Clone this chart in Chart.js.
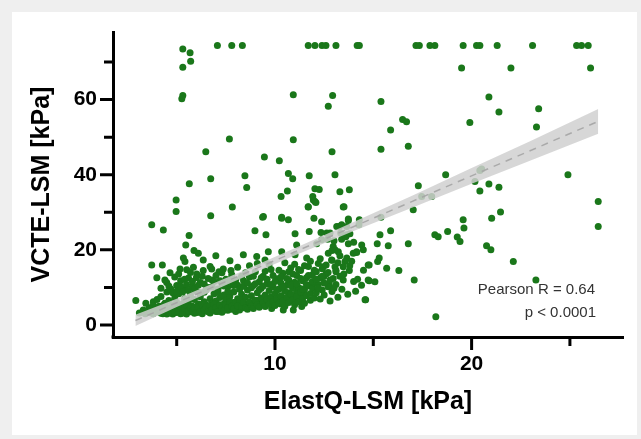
<!DOCTYPE html>
<html>
<head>
<meta charset="utf-8">
<script src="https://cdn.jsdelivr.net/npm/chart.js@4.4.0/dist/chart.umd.min.js"></script>
<style>
  html, body { margin: 0; padding: 0; background: #efefef; }
  .card { position: absolute; left: 12px; top: 12px; width: 625px; height: 423px; background: #fff; }
  #chart { position: absolute; left: 0; top: 0; }
</style>
</head>
<body>
<div class="card"></div>
<canvas id="chart" width="641" height="439"></canvas>
<script>
// ElastQ-LSM (x) vs VCTE-LSM (y), kPa
const topRowPoints = [
  [7.07,74.4],[7.80,74.4],[8.34,74.4],[11.69,74.4],[12.03,74.4],[12.39,74.4],[12.59,74.4],[13.10,74.4],
  [14.18,74.4],[14.29,74.4],[17.17,74.4],[17.34,74.4],[17.88,74.4],[18.13,74.4],[19.57,74.4],[20.25,74.4],
  [20.42,74.4],[21.30,74.4],[23.10,74.4],[25.34,74.4],[25.59,74.4],[25.93,74.4],
  [19.49,68.4],[22.0,68.4],[26.05,68.4]
];

const sparsePoints = [
  [5.31,73.5],[5.68,72.5],[5.71,70.2],[5.31,68.6],[5.31,61.1],[5.26,60.2],
  [10.93,61.3],[7.68,49.5],[10.93,49.3],[6.48,46.1],[9.46,44.7],[10.22,43.7],
  [5.64,37.6],[6.73,38.9],[8.47,39.7],[8.56,36.6],[10.68,40.3],[10.90,38.9],[11.74,39.7],[12.03,36.3],
  [12.25,36.1],[10.63,35.7],[10.31,34.2],[4.97,33.3],[4.97,30.2],[7.83,31.4],[11.95,33.3],[11.69,31.4],
  [6.73,29.1],[9.41,28.9],[10.34,28.7],[11.92,34.2],[12.03,32.9],
  [12.93,61.1],[12.71,58.2],[15.39,59.5],[20.88,60.7],[21.39,56.7],[23.41,57.6],[23.30,52.7],
  [16.49,54.7],[16.69,54.1],[15.88,51.9],[19.91,53.9],[12.90,46.1],[15.39,46.8],[16.78,47.6],
  [13.05,40.0],[18.68,40.0],[24.90,40.0],[13.30,35.5],[13.78,36.0],[13.47,31.4],[17.29,37.1],
  [17.46,34.2],[17.97,34.2],[17.03,30.7],[20.17,38.2],[20.42,41.1],[20.51,41.5],[20.88,37.5],
  [21.39,36.7],[20.42,35.7],[21.47,30.1],[21.02,28.4],[19.57,28.0],[26.44,32.9],[15.39,28.7],
  [13.73,28.2],[14.29,28.0],
  [26.44,26.2],[19.61,25.8],[18.13,24.0],[18.30,23.5],[18.78,24.9],[19.27,23.4],[19.41,22.2],
  [20.76,21.1],[20.98,20.0],[22.12,16.9],[23.27,12.0],[18.18,2.2],[16.78,21.6],[17.08,12.0],
  [16.30,14.5],[15.68,15.1],[15.88,25.1],[15.34,24.0],[15.20,21.6],[15.30,17.8],[15.22,16.9],
  [15.76,21.1],[14.79,16.0],[14.79,11.8],[15.08,11.5],[14.61,6.7],[14.41,21.3],[14.15,19.5],
  [13.98,19.1],[13.65,17.8],[13.56,16.9],[13.47,15.5],[13.78,14.5],[13.47,12.0],[13.05,15.5],
  [13.10,14.2],[12.96,12.4],[12.76,10.7],[12.49,12.9],[13.27,26.2],[13.65,26.2],[13.34,24.5],
  [13.81,24.3],[12.63,24.5],[12.37,22.7],[12.96,20.9],[13.22,19.5],[12.71,19.1],[12.88,17.3],
  [12.46,15.5],
  [3.73,26.7],[4.32,25.3],[5.63,23.8],[2.92,6.5],[3.43,5.8],[3.73,16.0],[4.27,16.0],[5.46,21.3],
  [5.88,19.8],[6.10,19.1],[6.99,18.4],[5.34,17.8],[5.42,16.9],[6.35,17.3],[5.17,14.9],[5.51,14.7],
  [5.85,15.4],[6.02,13.6],[6.35,14.5],[6.78,14.9],[7.15,14.2],[7.37,14.9],[7.71,17.1],[7.76,14.5],
  [3.99,12.6],[4.49,11.3],[4.66,13.9],[3.81,6.2],
  [11.69,31.5],[12.08,32.6],[13.51,31.5],[9.37,28.7],[10.34,28.4],[10.68,28.0],[11.98,28.4],
  [12.37,27.5],[8.98,25.1],[9.54,24.0],[11.02,24.3],[11.74,24.9],[12.34,24.6],[12.80,24.5],
  [13.14,26.2],[13.39,26.7],[13.73,27.8],[13.65,24.0],[14.27,26.7],[11.10,21.3],[12.12,21.6],
  [12.68,22.8],[13.05,20.0],[13.39,22.8],[13.73,21.6],[14.15,19.3],[14.49,20.0],[8.39,18.7],
  [9.07,18.2],[9.49,17.3],[9.66,19.5],[10.34,19.5],[11.02,18.7],[11.61,17.8],[10.42,4.0],
  [10.93,4.0],[11.36,4.9],[9.83,4.4],[14.58,6.7],[14.74,12.0],[14.74,16.0]
];

const clusterPoints = [
  [3.1,3.2],[3.3,4.0],[3.4,3.0],[3.6,4.6],[3.6,3.3],[3.8,5.2],[3.8,3.0],[3.9,4.0],[4.0,6.8],[4.0,3.5],
  [4.1,5.0],[4.2,3.1],[4.2,7.6],[4.3,4.2],[4.4,3.4],[4.4,5.8],[4.5,8.8],[4.5,2.9],[4.6,4.6],[4.6,6.5],
  [4.7,3.6],[4.7,9.6],[4.8,5.3],[4.8,2.9],[4.9,4.1],[4.9,7.2],[5.0,3.3],[5.0,6.0],[5.0,10.5],
  [5.1,4.7],[5.1,8.3],[5.2,3.0],[5.2,11.8],[5.3,5.6],[5.3,3.8],[5.4,7.0],[5.4,9.5],[5.5,4.3],[5.5,2.9],
  [5.6,6.3],[5.6,12.5],[5.7,3.5],[5.7,8.0],[5.8,5.0],[5.8,10.2],[5.9,3.1],[5.9,6.8],[6.0,4.2],[6.0,9.0],
  [6.1,5.6],[6.1,3.4],[6.2,7.5],[6.2,11.3],[6.3,4.6],[6.3,3.0],[6.4,6.2],[6.4,8.7],[6.5,3.8],[6.5,5.3],
  [6.6,10.0],[6.6,4.4],[6.7,7.0],[6.7,3.2],[6.8,5.8],[6.8,12.0],[6.9,4.0],[6.9,8.3],[7.0,6.4],[7.0,3.6],
  [7.1,5.0],[7.1,9.6],[7.2,4.3],[7.2,7.3],[7.3,3.4],[7.3,11.0],[7.4,5.6],[7.4,8.0],[7.5,4.6],[7.5,6.6],
  [7.6,3.9],[7.6,10.2],[7.7,5.2],[7.7,7.6],[7.8,4.2],[7.8,12.6],[7.9,6.0],[7.9,8.8],[8.0,4.8],[8.0,3.6],
  [8.1,7.0],[8.1,10.6],[8.2,5.5],[8.2,4.0],[8.3,8.2],[8.3,6.3],[8.4,11.8],[8.4,4.6],[8.5,7.4],[8.5,5.6],
  [3.5,3.7],[3.7,4.3],[3.9,3.4],[4.1,4.0],[4.3,3.0],[4.3,5.2],[4.5,3.8],[4.6,3.2],[4.8,4.4],[4.9,3.4],
  [5.1,3.6],[5.2,4.9],[5.3,3.2],[5.4,4.4],[5.5,5.3],[5.6,3.7],[5.7,4.6],[5.8,3.8],[5.9,4.4],[6.0,3.3],
  [6.1,4.8],[6.2,3.6],[6.3,5.5],[6.4,4.0],[6.5,4.7],[6.6,3.5],[6.7,5.2],[6.8,4.2],[6.9,5.6],[7.0,4.6],
  [7.1,3.6],[7.2,5.4],[7.3,4.6],[7.4,3.9],[7.5,5.4],[7.6,4.6],[7.7,6.2],[7.8,5.0],[7.9,4.3],[8.0,6.0],
  [8.1,5.1],[8.2,6.8],[8.3,4.9],[8.4,6.0],[8.5,4.6],[8.7,5.4],[8.9,6.0],[9.1,6.5],[9.3,5.4],[9.5,6.0],
  [9.7,7.0],[9.9,5.5],[10.1,6.1],[10.3,5.6],[10.5,7.0],[10.7,8.6],[10.9,7.8],[11.1,8.8],[11.3,7.4],[11.5,8.0],
  [8.6,4.2],[8.6,9.3],[8.7,6.1],[8.7,12.8],[8.8,5.0],[8.8,7.8],[8.9,10.5],[8.9,4.4],[9.0,6.6],[9.0,14.2],
  [9.1,8.6],[9.1,5.4],[9.2,11.5],[9.2,4.7],[9.3,7.2],[9.3,9.8],[9.4,5.9],[9.4,13.0],[9.5,8.0],[9.5,4.9],
  [9.6,6.8],[9.6,11.0],[9.7,9.2],[9.7,5.5],[9.8,7.5],[9.8,14.8],[9.9,6.2],[9.9,10.2],[10.0,8.4],[10.0,5.2],
  [10.1,12.3],[10.1,7.0],[10.2,9.6],[10.2,5.8],[10.3,11.2],[10.3,7.8],[10.4,6.4],[10.4,13.8],[10.5,9.0],[10.5,5.0],
  [10.6,10.6],[10.6,7.3],[10.7,12.0],[10.7,6.0],[10.8,8.2],[10.8,15.2],[10.9,9.8],[10.9,6.7],[11.0,11.4],[11.0,5.4],
  [11.1,7.6],[11.1,13.2],[11.2,10.0],[11.2,6.2],[11.3,8.8],[11.3,14.5],[11.4,7.0],[11.4,11.8],[11.5,9.4],[11.5,5.8],
  [11.6,12.6],[11.6,7.8],[11.7,10.4],[11.7,15.6],[11.8,8.4],[11.8,6.6],[11.9,13.4],[11.9,9.9],[12.0,7.2],[12.0,11.2],
  [12.1,14.2],[12.1,8.6],[12.2,10.8],[12.2,16.4],[12.3,6.9],[12.3,12.5],[12.4,9.3],[12.4,15.0],
  [12.5,8.0],[12.6,13.6],[12.7,10.2],[12.8,6.4],[12.9,19.8],[12.9,8.9],[13.0,22.4],[13.1,10.8],[13.2,16.6],
  [13.2,7.4],[13.3,13.0],[13.4,9.5],[13.6,23.5],[13.7,8.2],[13.9,17.0],[14.0,22.0],[14.1,9.0],[14.2,12.2],
  [14.4,10.6],[14.5,14.6]
];

// the looser cloud sitting above the dense core
const upperCloudPoints = [
  [4.2,9.8],[4.4,12.0],[4.6,10.4],[4.8,8.6],[4.9,12.8],[5.0,9.0],[5.1,13.6],[5.2,10.2],[5.3,8.8],[5.4,12.2],
  [5.5,10.8],[5.6,9.2],[5.7,14.0],[5.8,11.6],[5.9,9.6],[6.0,12.6],[6.1,10.6],[6.2,8.6],[6.3,13.0],[6.4,10.9],
  [6.5,9.4],[6.6,12.4],[6.7,15.6],[6.8,10.2],[6.9,11.6],[7.0,13.2],[7.1,8.8],[7.2,11.8],[7.3,13.9],[7.4,10.4],
  [7.5,12.2],[7.6,8.9],[7.7,11.2],[7.8,13.4],[7.9,10.5],[8.0,12.0],[8.1,15.4],[8.2,9.5],[8.3,13.0],
  [8.4,10.3],[8.5,13.9],[8.6,11.2],[8.7,15.8],[8.8,9.9],[8.9,13.0],[9.0,11.0],[9.1,16.4],[9.2,9.4],[9.3,12.6],
  [9.4,10.4],[9.5,14.4],[9.6,12.2],[9.7,16.2],[9.8,10.8],[9.9,13.2],[10.0,11.6],[10.1,9.3],[10.2,14.6],[10.3,12.8],
  [10.4,10.2],[10.5,16.6],[10.6,12.4],[10.7,14.2],[10.8,10.6],[10.9,13.6],[11.0,16.2],[11.1,11.0],[11.2,14.8],[11.3,12.4],
  [11.4,9.6],[11.5,15.8],[11.6,10.8],[11.7,13.2],[11.8,17.0],[11.9,11.6],[12.0,14.6],[12.1,12.2],[12.2,9.8],[12.3,17.6],
  [12.4,13.0],[12.5,11.2],[12.6,16.0],[12.7,14.0],[12.8,12.0],[12.9,17.2],[13.0,9.8],[13.1,14.6],[13.3,18.4],[13.5,13.6],
  [13.8,15.8],[14.0,11.6]
];

// regression line and 95% band
const fitX = [2.9, 26.44];
const fitY = [1.2, 54.2];
const bandX = [2.9, 5, 8, 11, 14, 17, 20, 23, 26.44];
const bandLow = [-0.3, 4.8, 11.8, 18.5, 25.0, 31.3, 37.6, 43.8, 50.9];
const bandHigh = [2.7, 7.0, 13.6, 20.4, 27.4, 34.5, 41.8, 49.0, 57.5];

const xLabels = [10, 20];
const xMinor = [5, 15, 25];
const yLabels = [0, 20, 40, 60];
const yMinor = [10, 30, 50, 70];

const allPoints = topRowPoints.concat(sparsePoints, clusterPoints, upperCloudPoints).map(p => ({ x: p[0], y: p[1] }));
const FONT = '"Liberation Sans", Arial, Helvetica, sans-serif';

// tick marks and the stats note
const extras = {
  id: 'extras',
  afterDraw(chart) {
    const ctx = chart.ctx;
    const xs = chart.scales.x, ys = chart.scales.y;
    const left = chart.chartArea.left, bottom = chart.chartArea.bottom;
    ctx.save();
    ctx.strokeStyle = '#000';
    ctx.lineWidth = 3;
    ctx.beginPath();
    yLabels.forEach(v => { const p = ys.getPixelForValue(v); ctx.moveTo(left, p); ctx.lineTo(left - 13, p); });
    yMinor.forEach(v => { const p = ys.getPixelForValue(v); ctx.moveTo(left, p); ctx.lineTo(left - 9, p); });
    xLabels.forEach(v => { const p = xs.getPixelForValue(v); ctx.moveTo(p, bottom); ctx.lineTo(p, bottom + 13); });
    xMinor.forEach(v => { const p = xs.getPixelForValue(v); ctx.moveTo(p, bottom); ctx.lineTo(p, bottom + 9); });
    ctx.stroke();
    ctx.fillStyle = '#000';
    ctx.fillRect(left - 1.5, bottom - 1.5, 3, 3);

    ctx.fillStyle = '#333';
    ctx.font = '15px ' + FONT;
    ctx.textAlign = 'right';
    ctx.textBaseline = 'middle';
    ctx.fillText('Pearson R = 0.64', 595, 290);
    ctx.fillText('p < 0.0001', 596, 313);
    ctx.restore();
  }
};

new Chart(document.getElementById('chart'), {
  type: 'scatter',
  data: {
    datasets: [
      {
        type: 'line',
        data: fitX.map((x, i) => ({ x, y: fitY[i] })),
        borderColor: 'rgba(165,165,165,0.9)',
        borderWidth: 1.5,
        borderDash: [7, 6],
        pointRadius: 0,
        fill: false,
        order: 0
      },
      {
        type: 'line',
        data: bandX.map((x, i) => ({ x, y: bandHigh[i] })),
        borderWidth: 0,
        pointRadius: 0,
        backgroundColor: 'rgba(208,208,208,0.85)',
        fill: '+1',
        order: 1
      },
      {
        type: 'line',
        data: bandX.map((x, i) => ({ x, y: bandLow[i] })),
        borderWidth: 0,
        pointRadius: 0,
        fill: false,
        order: 1
      },
      {
        data: allPoints,
        backgroundColor: '#1a771a',
        borderWidth: 0,
        pointRadius: 3.5,
        order: 2
      }
    ]
  },
  options: {
    responsive: false,
    animation: false,
    events: [],
    layout: { padding: { left: 27, right: 18, top: 32, bottom: 22 } },
    plugins: { legend: { display: false }, tooltip: { enabled: false } },
    scales: {
      x: {
        type: 'linear',
        min: 1.76,
        max: 27.7,
        grid: { display: false, drawTicks: false },
        border: { display: true, color: '#000', width: 3 },
        afterBuildTicks: s => { s.ticks = xLabels.map(v => ({ value: v })); },
        afterFit: s => { s.height = 80; },
        ticks: { padding: 15, maxRotation: 0, color: '#000', font: { family: FONT, size: 21, weight: 'bold' } },
        title: { display: true, text: 'ElastQ-LSM [kPa]', color: '#000', padding: 0, font: { family: FONT, size: 25, weight: 'bold' } }
      },
      y: {
        type: 'linear',
        min: -3.2,
        max: 78,
        grid: { display: false, drawTicks: false },
        border: { display: true, color: '#000', width: 3 },
        afterBuildTicks: s => { s.ticks = yLabels.map(v => ({ value: v })); },
        afterFit: s => { s.width = 86; },
        ticks: { padding: 16, color: '#000', font: { family: FONT, size: 21, weight: 'bold' } },
        title: { display: true, text: 'VCTE-LSM [kPa]', color: '#000', padding: 0, font: { family: FONT, size: 25, weight: 'bold' } }
      }
    }
  },
  plugins: [extras]
});
</script>
</body>
</html>
